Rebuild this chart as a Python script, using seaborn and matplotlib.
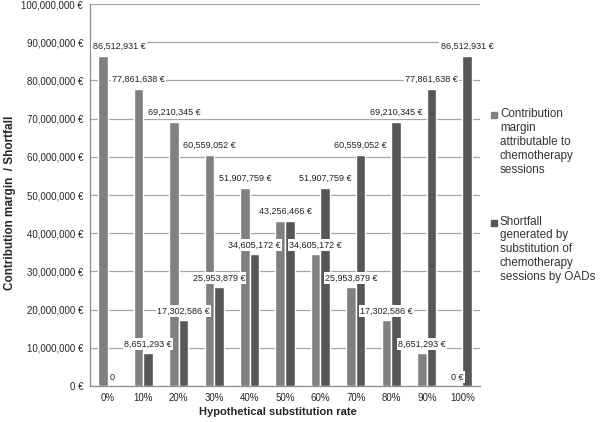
import matplotlib.pyplot as plt
import matplotlib.ticker as mticker
from matplotlib.patches import Rectangle
import pandas as pd
import seaborn as sns

sns.set_style("white")
plt.rcParams["font.family"] = ["Liberation Sans", "DejaVu Sans"]

rates = ["0%", "10%", "20%", "30%", "40%", "50%", "60%", "70%", "80%", "90%", "100%"]
margin = [86512931, 77861638, 69210345, 60559052, 51907759, 43256466,
          34605172, 25953879, 17302586, 8651293, 0]
shortfall = [0, 8651293, 17302586, 25953879, 34605172, 43256466,
             51907759, 60559052, 69210345, 77861638, 86512931]
series = ["Contribution margin attributable to chemotherapy sessions",
          "Shortfall generated by substitution of chemotherapy sessions by OADs"]
legend_lines = ["Contribution\nmargin\nattributable to\nchemotherapy\nsessions",
                "Shortfall\ngenerated by\nsubstitution of\nchemotherapy\nsessions by OADs"]
colors = ["#808080", "#575757"]

df = pd.DataFrame({
    "rate": rates + rates,
    "value": margin + shortfall,
    "series": [series[0]] * len(rates) + [series[1]] * len(rates),
})

fig = plt.figure(figsize=(6, 4.22), dpi=100)
ax = fig.add_axes([0.15, 0.0853, 0.65, 0.905])

sns.barplot(data=df, x="rate", y="value", hue="series", palette=colors,
            width=0.54, gap=0, saturation=1, errorbar=None, legend=False,
            ax=ax, zorder=3)

ax.set_ylim(0, 100_000_000)
ax.yaxis.set_major_locator(mticker.MultipleLocator(10_000_000))
ax.yaxis.set_major_formatter(mticker.FuncFormatter(lambda v, p: f"{v:,.0f} €"))
ax.grid(axis="y", color="#a6a6a6", linewidth=0.9, zorder=0)
ax.set_axisbelow(True)
for s in ["top", "right"]:
    ax.spines[s].set_visible(False)
for s in ["left", "bottom"]:
    ax.spines[s].set_color("#8c8c8c")
    ax.spines[s].set_linewidth(0.9)
ax.tick_params(axis="y", length=3, width=0.8, color="#8c8c8c", pad=2, labelsize=7)
ax.tick_params(axis="x", length=0, pad=5, labelsize=7)

# data labels
for k, (cont, vals) in enumerate(zip(ax.containers, [margin, shortfall])):
    for i, (bar, v) in enumerate(zip(cont, vals)):
        txt = f"{v:,.0f} €"
        if k == 1 and i == 0:
            txt = "0"
        x = bar.get_x() + bar.get_width() / 2
        dx = 16 if (k == 0 and i == 0) else 0
        if margin[i] == shortfall[i]:
            # both labels coincide: show once over the pair
            if k == 1:
                continue
            x = bar.get_x() + bar.get_width()
        ax.annotate(txt, (x, bar.get_height()),
                    xytext=(dx, 9), textcoords="offset pixels",
                    ha="center", va="center", fontsize=6.5, color="#222222",
                    bbox=dict(boxstyle="square,pad=0.15", fc="white", ec="none"),
                    zorder=6, annotation_clip=False)

ax.set_xlabel("Hypothetical substitution rate", fontsize=8, fontweight="bold")
ax.set_ylabel("Contribution margin  / Shortfall", fontsize=8.5, fontweight="bold")
ax.xaxis.set_label_coords(0.482, -0.055)
ax.yaxis.set_label_coords(-0.19, 0.479)

# legend
for txt, col, y in zip(legend_lines, colors, [0.743, 0.489]):
    fig.text(0.8333, y, txt, fontsize=8.4, va="top", ha="left",
             linespacing=1.2, color="#333333")
    fig.add_artist(Rectangle((0.8183, y - 0.0235), 0.01, 0.0142,
                             transform=fig.transFigure, color=col))

fig.savefig("out.png", dpi=100)
